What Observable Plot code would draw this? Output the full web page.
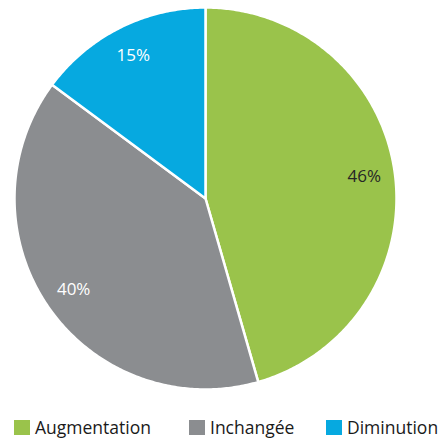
<!DOCTYPE html>
<html>
<head>
<meta charset="utf-8">
<script src="https://cdn.jsdelivr.net/npm/d3@7"></script>
<script src="https://cdn.jsdelivr.net/npm/@observablehq/plot@0.6"></script>
<style>
  html, body { margin: 0; padding: 0; background: #fff; }
  body { width: 443px; height: 439px; overflow: hidden; font-family: "Open Sans", sans-serif; }
  #legend { position: relative; height: 41px; }
  .item { position: absolute; top: 17px; display: flex; align-items: center; font-size: 17.5px; font-weight: 500; color: #1a1a1a; }
  .sw { width: 16px; height: 15px; margin-right: 5px; }
</style>
</head>
<body>
<div id="chart"></div>
<div id="legend"></div>
<script>
const categories = ["Augmentation", "Inchangée", "Diminution"];
const values = [46, 40, 15];
const labels = ["46%", "40%", "15%"];
const colors = ["#9ac34b", "#8b8d90", "#06a9e0"];
const labelColors = ["#262626", "#ffffff", "#ffffff"];

const total = d3.sum(values);
const slices = [];
const labelRows = [];
let a0 = 0;
values.forEach((v, i) => {
  const a1 = a0 + v / total * 2 * Math.PI;
  const n = Math.max(2, Math.ceil((a1 - a0) / 0.01));
  slices.push({cat: categories[i], x: 0, y: 0});
  for (let k = 0; k <= n; k++) {
    const a = a0 + (a1 - a0) * k / n;
    slices.push({cat: categories[i], x: Math.sin(a), y: Math.cos(a)});
  }
  slices.push({cat: categories[i], x: 0, y: 0});
  const m = (a0 + a1) / 2;
  labelRows.push({cat: categories[i], text: labels[i], x: 0.84 * Math.sin(m), y: 0.84 * Math.cos(m), c: labelColors[i]});
  a0 = a1;
});

const chart = Plot.plot({
  width: 443,
  height: 398,
  marginLeft: 14,
  marginRight: 47,
  marginTop: 7,
  marginBottom: 9,
  x: {domain: [-1, 1], axis: null},
  y: {domain: [-1, 1], axis: null},
  color: {domain: categories, range: colors},
  style: {fontFamily: "Open Sans, sans-serif", background: "#fff"},
  marks: [
    Plot.line(slices, {x: "x", y: "y", z: "cat", fill: "cat", stroke: "white", strokeWidth: 2.5, strokeLinejoin: "round", curve: "linear"}),
    Plot.text(labelRows, {x: "x", y: "y", text: "text", fill: d => d.c, fontSize: 17, fontWeight: 500})
  ]
});
document.getElementById("chart").appendChild(chart);

const lefts = [14, 189, 326];
const legend = document.getElementById("legend");
categories.forEach((c, i) => {
  const it = document.createElement("div");
  it.className = "item";
  it.style.left = lefts[i] + "px";
  const sw = document.createElement("span");
  sw.className = "sw";
  sw.style.background = colors[i];
  const t = document.createElement("span");
  t.textContent = c;
  it.appendChild(sw);
  it.appendChild(t);
  legend.appendChild(it);
});
</script>
</body>
</html>
